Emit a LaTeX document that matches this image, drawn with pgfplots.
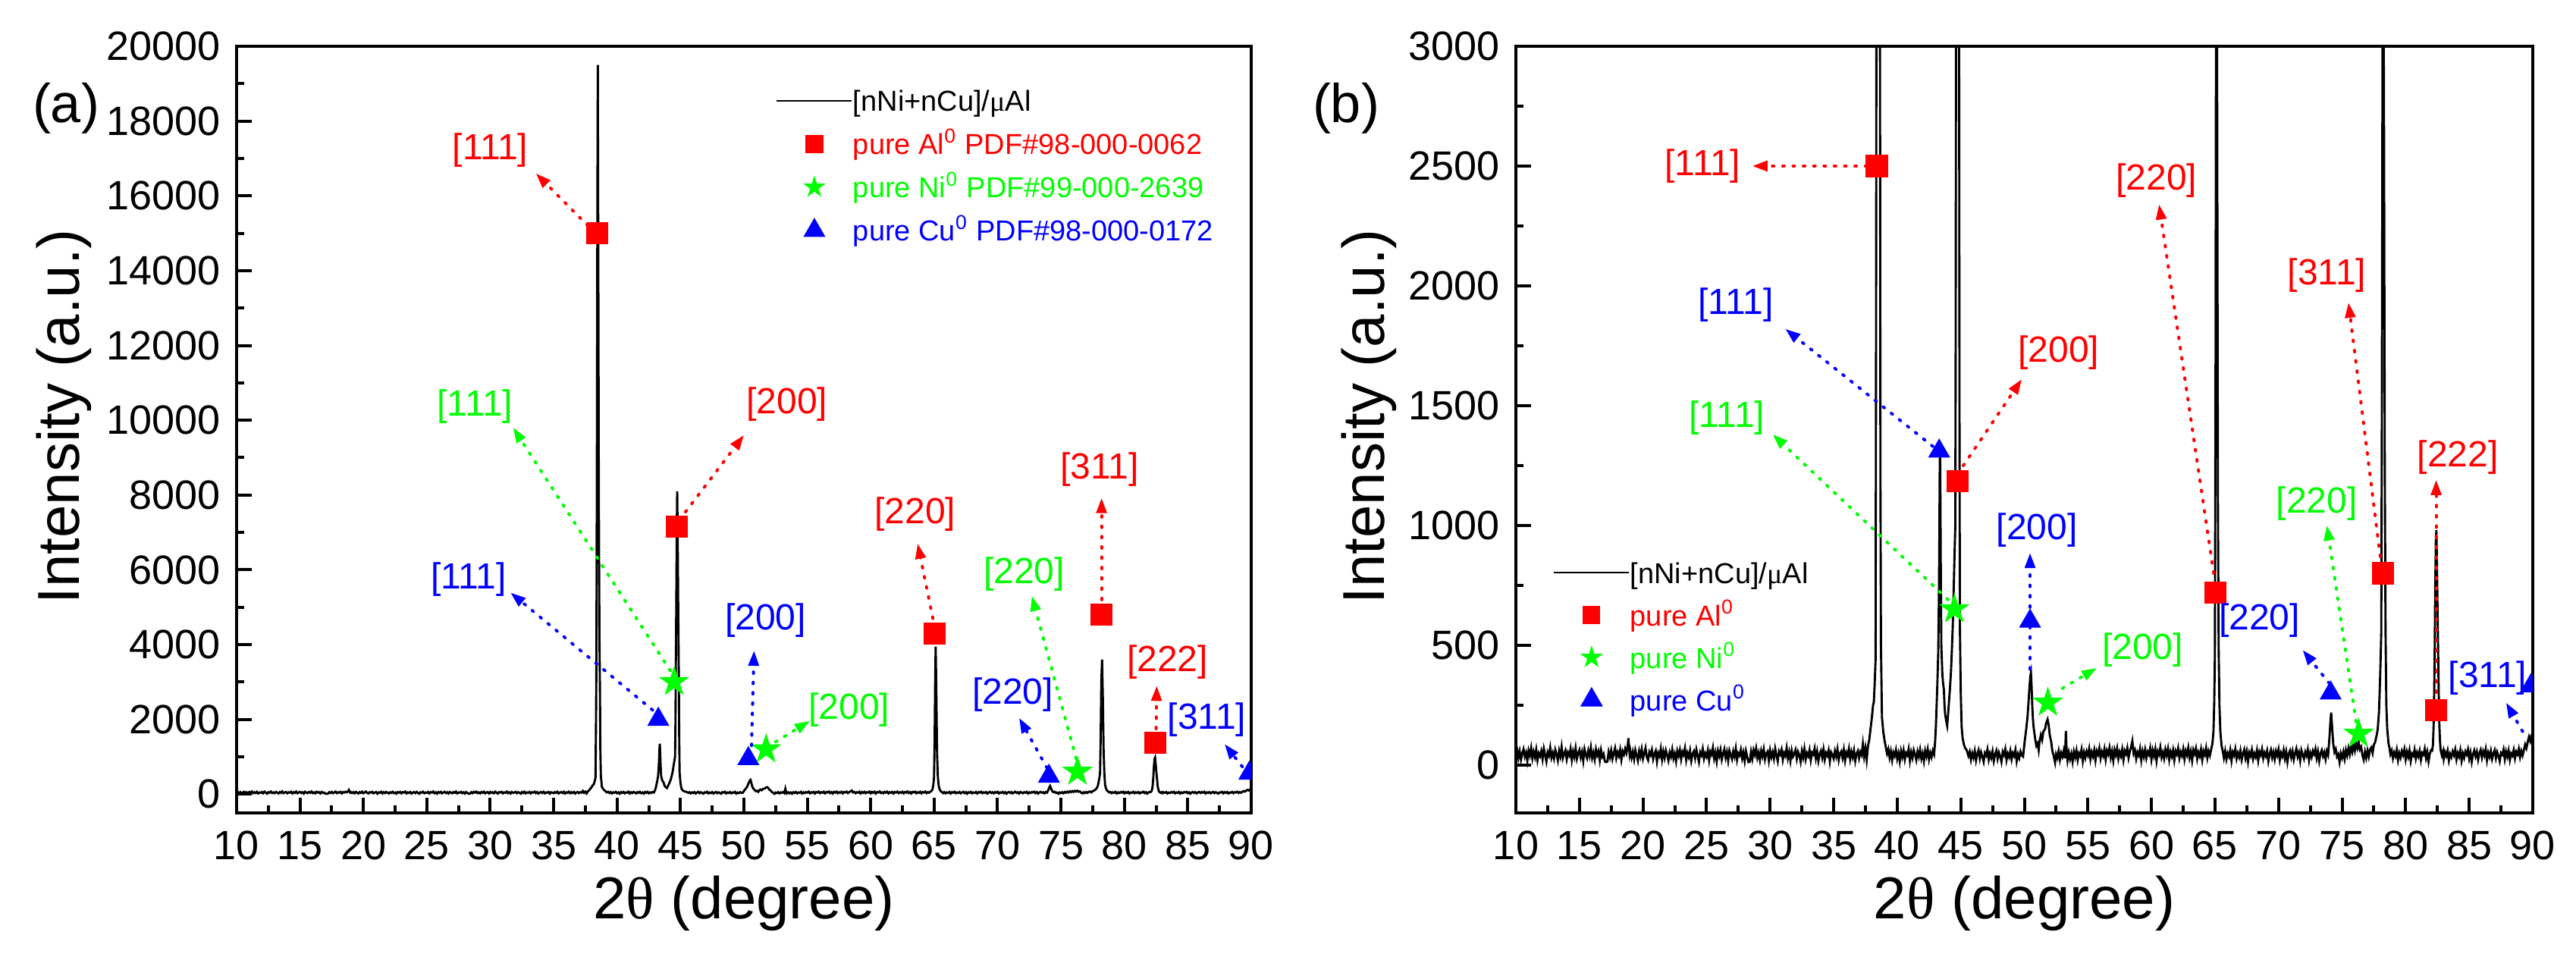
\documentclass[border=0pt]{standalone}
\usepackage{fontspec}
\setmainfont{Liberation Sans}
\newfontfamily\sym{Liberation Serif}
\usepackage{pgfplots}
\usepackage{pgfplotstable}
\pgfplotsset{compat=1.18}
\usetikzlibrary{arrows.meta}

\pgfdeclareplotmark{fstar}{%
  \pgfpathmoveto{\pgfpointpolar{90}{\pgfplotmarksize}}%
  \pgfpathlineto{\pgfpointpolar{126}{0.382\pgfplotmarksize}}%
  \pgfpathlineto{\pgfpointpolar{162}{\pgfplotmarksize}}%
  \pgfpathlineto{\pgfpointpolar{198}{0.382\pgfplotmarksize}}%
  \pgfpathlineto{\pgfpointpolar{234}{\pgfplotmarksize}}%
  \pgfpathlineto{\pgfpointpolar{270}{0.382\pgfplotmarksize}}%
  \pgfpathlineto{\pgfpointpolar{306}{\pgfplotmarksize}}%
  \pgfpathlineto{\pgfpointpolar{342}{0.382\pgfplotmarksize}}%
  \pgfpathlineto{\pgfpointpolar{18}{\pgfplotmarksize}}%
  \pgfpathlineto{\pgfpointpolar{54}{0.382\pgfplotmarksize}}%
  \pgfpathclose\pgfusepathqfillstroke}

\pgfplotstableread[row sep=\\]{
x y\\
10.0 45\\ 10.1 62\\ 10.2 30\\ 10.3 57\\ 10.4 22\\ 10.5 48\\ 10.6 66\\ 10.7 35\\ 10.8 52\\ 10.9 18\\
11.0 60\\ 11.1 40\\ 11.2 71\\ 11.3 28\\ 11.4 55\\ 11.5 33\\ 11.6 64\\ 11.7 20\\ 11.8 49\\ 11.9 37\\
12.0 58\\ 12.1 25\\ 12.2 68\\ 12.3 42\\ 12.4 15\\ 12.5 53\\ 12.6 39\\ 12.7 72\\ 12.8 31\\ 12.9 50\\
13.0 27\\ 13.1 63\\ 13.2 44\\ 13.3 19\\ 13.4 59\\ 13.5 36\\ 13.6 75\\ 13.7 29\\ 13.8 47\\ 13.9 61\\
14.0 24\\ 14.1 52\\ 14.2 40\\ 14.3 67\\ 14.4 21\\ 14.5 56\\ 14.6 34\\ 14.7 70\\ 14.8 26\\ 14.9 48\\
15.0 63\\ 15.1 32\\ 15.2 54\\ 15.3 17\\ 15.4 66\\ 15.5 43\\ 15.6 28\\ 15.7 60\\ 15.8 38\\ 15.9 73\\
16.0 30\\ 16.1 51\\ 16.2 23\\ 16.3 65\\ 16.4 41\\ 16.5 57\\ 16.6 20\\ 16.7 62\\ 16.8 35\\ 16.9 46\\
17.0 15\\ 17.1 12\\ 17.2 14\\ 17.3 55\\ 17.4 33\\ 17.5 61\\ 17.6 26\\ 17.7 49\\ 17.8 70\\ 17.9 29\\
18.0 53\\ 18.1 38\\ 18.2 64\\ 18.3 22\\ 18.4 57\\ 18.5 44\\ 18.6 68\\ 18.7 50\\ 18.8 80\\ 18.85 112\\ 18.9 75\\ 18.95 45\\
19.0 60\\ 19.1 31\\ 19.2 55\\ 19.3 24\\ 19.4 62\\ 19.5 40\\ 19.6 18\\ 19.7 58\\ 19.8 36\\ 19.9 66\\
20.0 27\\ 20.1 49\\ 20.2 71\\ 20.3 33\\ 20.4 20\\ 20.5 54\\ 20.6 42\\ 20.7 63\\ 20.8 25\\ 20.9 46\\
21.0 59\\ 21.1 14\\ 21.2 50\\ 21.3 37\\ 21.4 68\\ 21.5 23\\ 21.6 56\\ 21.7 30\\ 21.8 61\\ 21.9 41\\
22.0 19\\ 22.1 52\\ 22.2 35\\ 22.3 65\\ 22.4 28\\ 22.5 47\\ 22.6 16\\ 22.7 58\\ 22.8 39\\ 22.9 62\\
23.0 24\\ 23.1 55\\ 23.2 43\\ 23.3 70\\ 23.4 21\\ 23.5 50\\ 23.6 33\\ 23.7 60\\ 23.8 17\\ 23.9 45\\
24.0 57\\ 24.1 29\\ 24.2 64\\ 24.3 38\\ 24.4 13\\ 24.5 53\\ 24.6 41\\ 24.7 67\\ 24.8 26\\ 24.9 48\\
25.0 35\\ 25.1 61\\ 25.2 20\\ 25.3 56\\ 25.4 44\\ 25.5 72\\ 25.6 27\\ 25.7 51\\ 25.8 15\\ 25.9 59\\
26.0 38\\ 26.1 63\\ 26.2 23\\ 26.3 47\\ 26.4 66\\ 26.5 31\\ 26.6 54\\ 26.7 18\\ 26.8 60\\ 26.9 42\\
27.0 25\\ 27.1 57\\ 27.2 36\\ 27.3 69\\ 27.4 22\\ 27.5 49\\ 27.6 40\\ 27.7 64\\ 27.8 28\\ 27.9 52\\
28.0 17\\ 28.1 58\\ 28.2 34\\ 28.3 12\\ 28.4 14\\ 28.5 55\\ 28.6 26\\ 28.7 62\\ 28.8 43\\ 28.9 70\\
29.0 30\\ 29.1 51\\ 29.2 21\\ 29.3 59\\ 29.4 37\\ 29.5 66\\ 29.6 24\\ 29.7 48\\ 29.8 56\\ 29.9 19\\
30.0 61\\ 30.1 33\\ 30.2 53\\ 30.3 27\\ 30.4 68\\ 30.5 40\\ 30.6 16\\ 30.7 57\\ 30.8 45\\ 30.9 64\\
31.0 22\\ 31.1 50\\ 31.2 38\\ 31.3 71\\ 31.4 29\\ 31.5 54\\ 31.6 18\\ 31.7 60\\ 31.8 35\\ 31.9 47\\
32.0 63\\ 32.1 26\\ 32.2 55\\ 32.3 41\\ 32.4 14\\ 32.5 58\\ 32.6 32\\ 32.7 67\\ 32.8 24\\ 32.9 49\\
33.0 37\\ 33.1 62\\ 33.2 20\\ 33.3 52\\ 33.4 44\\ 33.5 69\\ 33.6 28\\ 33.7 56\\ 33.8 17\\ 33.9 46\\
34.0 59\\ 34.1 31\\ 34.2 65\\ 34.3 23\\ 34.4 50\\ 34.5 39\\ 34.6 61\\ 34.7 15\\ 34.8 53\\ 34.9 42\\
35.0 27\\ 35.1 58\\ 35.2 36\\ 35.3 66\\ 35.4 21\\ 35.5 48\\ 35.6 57\\ 35.7 30\\ 35.8 63\\ 35.9 19\\
36.0 52\\ 36.1 40\\ 36.2 68\\ 36.3 25\\ 36.4 55\\ 36.5 33\\ 36.6 61\\ 36.7 18\\ 36.8 47\\ 36.9 59\\
37.0 29\\ 37.1 54\\ 37.2 42\\ 37.3 88\\ 37.4 36\\ 37.5 70\\ 37.6 22\\ 37.7 78\\ 37.8 105\\ 37.9 150\\
38.0 195\\ 38.1 250\\ 38.16 262\\ 38.22 330\\ 38.3 442\\ 38.34 2000\\ 38.37 3500\\ 38.41 9000\\ 38.45 16000\\ 38.48 19500\\ 38.52 14000\\ 38.56 8000\\ 38.61 4200\\ 38.65 2800\\ 38.68 1200\\ 38.72 500\\ 38.8 200\\ 38.9 140\\
39.0 104\\ 39.1 75\\ 39.2 48\\ 39.3 66\\ 39.4 31\\ 39.5 57\\ 39.6 20\\ 39.7 52\\ 39.8 38\\ 39.9 63\\
40.0 26\\ 40.1 49\\ 40.2 15\\ 40.3 58\\ 40.4 34\\ 40.5 61\\ 40.6 23\\ 40.7 50\\ 40.8 41\\ 40.9 67\\
41.0 18\\ 41.1 53\\ 41.2 30\\ 41.3 62\\ 41.4 44\\ 41.5 21\\ 41.6 56\\ 41.7 35\\ 41.8 64\\ 41.9 27\\
42.0 48\\ 42.1 16\\ 42.2 59\\ 42.3 37\\ 42.4 65\\ 42.5 24\\ 42.6 51\\ 42.7 33\\ 42.8 60\\ 42.9 45\\
42.98 95\\ 43.05 170\\ 43.11 262\\ 43.17 360\\ 43.23 474\\ 43.28 700\\ 43.31 900\\ 43.34 1200\\ 43.37 1350\\ 43.4 1100\\ 43.43 800\\ 43.47 500\\ 43.55 380\\ 43.61 340\\ 43.67 316\\ 43.72 250\\ 43.77 212\\ 43.85 185\\ 43.93 164\\
44.0 210\\ 44.07 262\\ 44.15 320\\ 44.23 389\\ 44.3 480\\ 44.37 579\\ 44.42 680\\ 44.47 790\\ 44.52 900\\ 44.57 1000\\ 44.6 1800\\ 44.63 3200\\ 44.67 5200\\ 44.71 7200\\ 44.74 8100\\ 44.78 6800\\ 44.82 5000\\ 44.86 3500\\ 44.9 1500\\ 44.93 579\\
45.0 300\\ 45.07 158\\ 45.15 110\\ 45.25 85\\ 45.35 70\\ 45.46 63\\ 45.6 38\\ 45.7 55\\ 45.8 22\\ 45.9 49\\
46.0 31\\ 46.1 58\\ 46.2 19\\ 46.3 46\\ 46.4 62\\ 46.5 27\\ 46.6 53\\ 46.7 35\\ 46.8 14\\ 46.9 50\\
47.0 40\\ 47.1 65\\ 47.2 23\\ 47.3 48\\ 47.4 30\\ 47.5 57\\ 47.6 17\\ 47.7 44\\ 47.8 60\\ 47.9 26\\
48.0 52\\ 48.1 36\\ 48.2 13\\ 48.3 55\\ 48.4 42\\ 48.5 66\\ 48.6 21\\ 48.7 47\\ 48.8 33\\ 48.9 59\\
49.0 24\\ 49.1 50\\ 49.2 38\\ 49.3 63\\ 49.4 16\\ 49.5 45\\ 49.6 29\\ 49.7 56\\ 49.8 40\\ 49.9 35\\
50.04 104\\ 50.15 150\\ 50.25 200\\ 50.33 262\\ 50.4 320\\ 50.47 370\\ 50.52 385\\ 50.57 330\\ 50.63 240\\ 50.68 190\\ 50.73 158\\ 50.85 110\\ 50.95 80\\
51.05 90\\ 51.13 63\\ 51.2 100\\ 51.3 125\\ 51.4 105\\ 51.5 140\\ 51.63 150\\ 51.72 175\\ 51.83 190\\ 51.92 165\\
52.0 125\\ 52.12 95\\ 52.2 60\\ 52.3 40\\ 52.42 10\\ 52.5 45\\ 52.6 30\\ 52.7 58\\ 52.8 22\\ 52.9 50\\
53.0 35\\ 53.1 60\\ 53.2 28\\ 53.27 142\\ 53.32 70\\ 53.4 20\\ 53.5 52\\ 53.6 25\\ 53.7 47\\ 53.8 14\\ 53.9 55\\
54.0 33\\ 54.1 60\\ 54.2 21\\ 54.3 49\\ 54.4 38\\ 54.5 64\\ 54.6 17\\ 54.7 52\\ 54.8 30\\ 54.9 57\\
55.0 41\\ 55.1 68\\ 55.2 25\\ 55.3 54\\ 55.4 36\\ 55.5 62\\ 55.6 20\\ 55.7 58\\ 55.8 44\\ 55.9 70\\
56.0 28\\ 56.1 55\\ 56.2 39\\ 56.3 66\\ 56.4 23\\ 56.5 60\\ 56.6 45\\ 56.7 72\\ 56.8 31\\ 56.9 57\\
57.0 19\\ 57.1 63\\ 57.2 42\\ 57.3 69\\ 57.4 27\\ 57.5 54\\ 57.6 37\\ 57.7 65\\ 57.8 22\\ 57.9 59\\
58.0 46\\ 58.1 71\\ 58.2 30\\ 58.3 56\\ 58.4 75\\ 58.5 100\\ 58.6 48\\ 58.7 62\\ 58.8 26\\ 58.9 53\\
59.0 40\\ 59.1 67\\ 59.2 21\\ 59.3 58\\ 59.4 35\\ 59.5 64\\ 59.6 29\\ 59.7 55\\ 59.8 43\\ 59.9 70\\
60.0 24\\ 60.1 61\\ 60.2 38\\ 60.3 66\\ 60.4 18\\ 60.5 57\\ 60.6 44\\ 60.7 73\\ 60.8 32\\ 60.9 52\\
61.0 27\\ 61.1 64\\ 61.2 41\\ 61.3 68\\ 61.4 23\\ 61.5 55\\ 61.6 36\\ 61.7 62\\ 61.8 20\\ 61.9 58\\
62.0 45\\ 62.1 70\\ 62.2 29\\ 62.3 54\\ 62.4 39\\ 62.5 66\\ 62.6 25\\ 62.7 59\\ 62.8 42\\ 62.9 72\\
63.0 31\\ 63.1 56\\ 63.2 19\\ 63.3 63\\ 63.4 47\\ 63.5 69\\ 63.6 26\\ 63.7 53\\ 63.8 37\\ 63.9 65\\
64.0 22\\ 64.1 58\\ 64.2 43\\ 64.3 71\\ 64.4 30\\ 64.5 57\\ 64.6 40\\ 64.7 66\\ 64.8 90\\
64.88 140\\ 64.94 260\\ 64.99 450\\ 65.04 1500\\ 65.08 3000\\ 65.12 3950\\ 65.17 2800\\ 65.23 1100\\ 65.29 480\\ 65.35 250\\ 65.42 140\\ 65.52 80\\ 65.62 55\\ 65.7 30\\ 65.8 58\\ 65.9 24\\
66.0 49\\ 66.1 35\\ 66.2 62\\ 66.3 18\\ 66.4 54\\ 66.5 41\\ 66.6 67\\ 66.7 27\\ 66.8 50\\ 66.9 33\\
67.0 60\\ 67.1 22\\ 67.2 47\\ 67.3 64\\ 67.4 29\\ 67.5 56\\ 67.6 15\\ 67.7 52\\ 67.8 38\\ 67.9 63\\
68.0 25\\ 68.1 48\\ 68.2 34\\ 68.3 61\\ 68.4 19\\ 68.5 55\\ 68.6 42\\ 68.7 66\\ 68.8 28\\ 68.9 51\\
69.0 37\\ 69.1 59\\ 69.2 16\\ 69.3 46\\ 69.4 63\\ 69.5 31\\ 69.6 53\\ 69.7 24\\ 69.8 58\\ 69.9 40\\
70.0 65\\ 70.1 21\\ 70.2 50\\ 70.3 36\\ 70.4 62\\ 70.5 27\\ 70.6 55\\ 70.7 13\\ 70.8 47\\ 70.9 60\\
71.0 32\\ 71.1 57\\ 71.2 23\\ 71.3 49\\ 71.4 68\\ 71.5 35\\ 71.6 52\\ 71.7 18\\ 71.8 61\\ 71.9 43\\
72.0 26\\ 72.1 54\\ 72.2 39\\ 72.3 64\\ 72.4 20\\ 72.5 50\\ 72.6 33\\ 72.7 59\\ 72.8 45\\ 72.9 67\\
73.0 29\\ 73.1 56\\ 73.2 17\\ 73.3 48\\ 73.4 62\\ 73.5 37\\ 73.6 53\\ 73.7 24\\ 73.8 58\\ 73.9 42\\
74.0 110\\ 74.08 180\\ 74.14 219\\ 74.2 170\\ 74.3 90\\ 74.4 54\\ 74.5 66\\ 74.6 35\\ 74.7 45\\ 74.8 12\\ 74.9 48\\
75.0 30\\ 75.1 55\\ 75.2 25\\ 75.3 62\\ 75.4 40\\ 75.5 70\\ 75.6 45\\ 75.7 80\\ 75.8 55\\ 75.9 85\\
76.0 60\\ 76.1 90\\ 76.2 70\\ 76.3 95\\ 76.4 65\\ 76.5 75\\ 76.6 40\\ 76.7 22\\ 76.8 55\\ 76.9 30\\
77.0 60\\ 77.1 35\\ 77.2 65\\ 77.3 73\\ 77.4 50\\ 77.5 85\\ 77.6 95\\ 77.7 120\\ 77.8 148\\ 77.9 220\\
77.95 295\\ 78.02 420\\ 78.08 550\\ 78.13 1500\\ 78.18 3000\\ 78.24 3600\\ 78.3 2600\\ 78.36 1200\\ 78.42 550\\ 78.48 250\\ 78.55 150\\ 78.65 90\\ 78.72 73\\ 78.8 45\\ 78.9 60\\
79.0 28\\ 79.1 52\\ 79.2 37\\ 79.3 63\\ 79.4 20\\ 79.5 49\\ 79.6 31\\ 79.7 58\\ 79.8 42\\ 79.9 66\\
80.0 24\\ 80.1 55\\ 80.2 34\\ 80.3 61\\ 80.4 17\\ 80.5 47\\ 80.6 39\\ 80.7 64\\ 80.8 27\\ 80.9 52\\
81.0 36\\ 81.1 59\\ 81.2 21\\ 81.3 50\\ 81.4 43\\ 81.5 67\\ 81.6 29\\ 81.7 54\\ 81.8 15\\ 81.9 48\\
82.0 62\\ 82.08 60\\ 82.15 85\\ 82.22 200\\ 82.28 450\\ 82.33 750\\ 82.38 950\\ 82.42 980\\ 82.47 800\\ 82.52 600\\ 82.57 420\\ 82.63 200\\ 82.7 100\\ 82.75 63\\ 82.85 40\\ 82.95 58\\
83.0 26\\ 83.1 53\\ 83.2 38\\ 83.3 60\\ 83.4 19\\ 83.5 46\\ 83.6 33\\ 83.7 57\\ 83.8 41\\ 83.9 64\\
84.0 23\\ 84.1 50\\ 84.2 35\\ 84.3 62\\ 84.4 18\\ 84.5 48\\ 84.6 30\\ 84.7 56\\ 84.8 44\\ 84.9 65\\
85.0 27\\ 85.1 52\\ 85.2 14\\ 85.3 45\\ 85.4 61\\ 85.5 36\\ 85.6 55\\ 85.7 22\\ 85.8 49\\ 85.9 63\\
86.0 31\\ 86.1 57\\ 86.2 40\\ 86.3 66\\ 86.4 20\\ 86.5 51\\ 86.6 34\\ 86.7 59\\ 86.8 25\\ 86.9 47\\
87.0 62\\ 87.1 29\\ 87.2 54\\ 87.3 38\\ 87.4 16\\ 87.5 50\\ 87.6 43\\ 87.7 64\\ 87.8 24\\ 87.9 56\\
88.0 35\\ 88.1 60\\ 88.2 21\\ 88.3 48\\ 88.4 39\\ 88.5 63\\ 88.6 28\\ 88.7 55\\ 88.8 44\\ 88.9 67\\
89.0 33\\ 89.1 58\\ 89.2 40\\ 89.3 62\\ 89.4 85\\ 89.5 70\\ 89.6 95\\ 89.7 117\\ 89.8 100\\ 89.9 125\\ 90.0 130\\
}\xrd

\tikzset{
  ann/.style={line width=1pt, line cap=round, dash pattern=on 0.5pt off 2.9pt, -{Triangle[length=5pt,width=3.4pt]}},
  lab/.style={font=\fontsize{12}{14}\selectfont, anchor=center, inner sep=0pt},
}
\pgfplotsset{
  xrd/.style={
    scale only axis, height=252.75pt,
    xmin=10, xmax=90, xtick={10,15,...,90}, minor x tick num=1,
    minor y tick num=1,
    tick align=inside, tick pos=left,
    major tick length=5pt, minor tick length=2.5pt,
    tick style={line width=1pt, black},
    axis line style={line width=1pt},
    tick label style={font=\fontsize{13.5}{15}\selectfont},
    yticklabel style={xshift=-1.75pt},
    xticklabel style={yshift=-2.5pt},
    /pgf/number format/assume math mode=true,
    /pgf/number format/1000 sep={},
    scaled y ticks=false,
    clip marker paths=true,
    label style={font=\fontsize{19.5}{22}\selectfont},
    xlabel={2{\sym θ} (degree)},
    ylabel={Intensity (a.u.)},
    xlabel style={at={(axis description cs:0.5,-0.1177)}, anchor=center},
    legend cell align=left,
  },
  lineleg/.style={legend image code/.code={\draw[##1] (0pt,0pt) -- (24.75pt,0pt);}},
  markleg/.style={legend image code/.code={\draw[##1,mark size=#1] plot coordinates {(12.375pt,0pt)};}},
}

\begin{document}
\begin{tikzpicture}
\path[use as bounding box] (0,0) rectangle (849.25pt,315.5pt);

% ---------------- (a) ----------------
\begin{axis}[xrd, at={(78pt,47.5pt)}, anchor=south west, width=334.5pt,
  ymin=-500, ymax=20000, ytick={0,2000,...,20000},
  ylabel style={at={(axis description cs:-0.1704,0.517)}, anchor=center},
  legend style={draw=none, fill=none, at={(0.5314,0.9486)}, anchor=north west,
    inner sep=0pt, outer sep=0pt, row sep=4.25pt, font=\fontsize{9.5}{11}\selectfont,
    nodes={inner sep=0pt, text height=8.5pt, text depth=1.5pt},
    /tikz/every even column/.append style={column sep=2.75pt}},
]
\addplot[black, line width=0.72pt, lineleg] table[x=x,y=y] {\xrd};
\addlegendentry{[nNi+nCu]/{\sym μ}Al}
\addplot[only marks, mark=square*, red, mark size=3.5pt, mark options={line width=0.3pt}, markleg=2.75pt]
  coordinates {(38.45,15000) (44.7,7150) (65.05,4300) (78.2,4800) (82.45,1380)};
\addlegendentry{\textcolor{red}{pure Al\textsuperscript{0} PDF\#98-000-0062}}
\addplot[only marks, mark=fstar, green, mark size=4.85pt, mark options={line width=0.3pt}, markleg=3.4pt]
  coordinates {(44.5,3000) (51.75,1200) (76.3,600)};
\addlegendentry{\textcolor{green}{pure Ni\textsuperscript{0} PDF\#99-000-2639}}
\addplot[only marks, mark=triangle*, blue, mark size=3.9pt, mark options={line width=0.3pt}, markleg=3.9pt]
  coordinates {(43.25,2000) (50.35,950) (74.05,480) (89.85,560)};
\addlegendentry{\textcolor{blue}{pure Cu\textsuperscript{0} PDF\#98-000-0172}}

\draw[ann, red] (axis cs:37.7,15200) -- (axis cs:33.6,16600);
\node[lab, red] at (axis cs:30.0,17224) {[111]};
\draw[ann, green] (axis cs:44.2,3300) -- (axis cs:31.8,9800);
\node[lab, green] at (axis cs:28.8,10370) {[111]};
\draw[ann, red] (axis cs:45.4,7550) -- (axis cs:50.0,9600);
\node[lab, red] at (axis cs:53.4,10420) {[200]};
\draw[ann, blue] (axis cs:42.8,2250) -- (axis cs:31.6,5390);
\node[lab, blue] at (axis cs:28.3,5750) {[111]};
\draw[ann, blue] (axis cs:50.6,1300) -- (axis cs:50.8,3840);
\node[lab, blue] at (axis cs:51.7,4650) {[200]};
\draw[ann, green] (axis cs:52.5,1400) -- (axis cs:55.2,1960);
\node[lab, green] at (axis cs:58.3,2250) {[200]};
\draw[ann, red] (axis cs:64.9,4700) -- (axis cs:63.7,6700);
\node[lab, red] at (axis cs:63.5,7480) {[220]};
\draw[ann, green] (axis cs:76.2,950) -- (axis cs:72.7,5300);
\node[lab, green] at (axis cs:72.1,5880) {[220]};
\draw[ann, red] (axis cs:78.2,5200) -- (axis cs:78.2,7920);
\node[lab, red] at (axis cs:78.05,8690) {[311]};
\draw[ann, blue] (axis cs:73.9,700) -- (axis cs:71.7,2040);
\node[lab, blue] at (axis cs:71.2,2660) {[220]};
\draw[ann, red] (axis cs:82.5,1750) -- (axis cs:82.55,2900);
\node[lab, red] at (axis cs:83.4,3540) {[222]};
\draw[ann, blue] (axis cs:89.3,735) -- (axis cs:87.9,1340);
\node[lab, blue] at (axis cs:86.5,1990) {[311]};
\end{axis}

% ---------------- (b) ----------------
\begin{axis}[xrd, at={(499.75pt,47.5pt)}, anchor=south west, width=335.25pt,
  ymin=-200, ymax=3000, ytick={0,500,...,3000},
  ylabel style={at={(axis description cs:-0.1447,0.517)}, anchor=center},
  legend style={draw=none, fill=none, at={(0.0365,0.3333)}, anchor=north west,
    inner sep=0pt, outer sep=0pt, row sep=4pt, font=\fontsize{9.5}{11}\selectfont,
    nodes={inner sep=0pt, text height=8.5pt, text depth=1.5pt},
    /tikz/every even column/.append style={column sep=3.25pt}},
]
\addplot[black, line width=0.72pt, lineleg] table[x=x,y=y] {\xrd};
\addlegendentry{[nNi+nCu]/{\sym μ}Al}
\addplot[only marks, mark=square*, red, mark size=3.5pt, mark options={line width=0.3pt}, markleg=2.75pt]
  coordinates {(38.4,2500) (44.75,1185) (65.05,720) (78.2,800) (82.4,230)};
\addlegendentry{\textcolor{red}{pure Al\textsuperscript{0}}}
\addplot[only marks, mark=fstar, green, mark size=4.85pt, mark options={line width=0.3pt}, markleg=3.5pt]
  coordinates {(44.5,650) (51.85,260) (76.3,130)};
\addlegendentry{\textcolor{green}{pure Ni\textsuperscript{0}}}
\addplot[only marks, mark=triangle*, blue, mark size=3.9pt, mark options={line width=0.3pt}, markleg=4pt]
  coordinates {(43.3,1310) (50.45,600) (74.1,300) (89.85,330)};
\addlegendentry{\textcolor{blue}{pure Cu\textsuperscript{0}}}

\draw[ann, red] (axis cs:37.6,2500) -- (axis cs:28.6,2500);
\node[lab, red] at (axis cs:24.7,2500) {[111]};
\draw[ann, red] (axis cs:64.9,800) -- (axis cs:60.6,2340);
\node[lab, red] at (axis cs:60.4,2440) {[220]};
\draw[ann, red] (axis cs:78.0,870) -- (axis cs:75.5,1930);
\node[lab, red] at (axis cs:73.8,2045) {[311]};
\draw[ann, blue] (axis cs:42.8,1330) -- (axis cs:31.2,1820);
\node[lab, blue] at (axis cs:27.3,1920) {[111]};
\draw[ann, red] (axis cs:45.2,1250) -- (axis cs:49.8,1610);
\node[lab, red] at (axis cs:52.7,1720) {[200]};
\draw[ann, green] (axis cs:44.0,690) -- (axis cs:30.2,1380);
\node[lab, green] at (axis cs:26.6,1450) {[111]};
\draw[ann, blue] (axis cs:50.45,400) -- (axis cs:50.45,885);
\node[lab, blue] at (axis cs:51.0,980) {[200]};
\draw[ann, red] (axis cs:82.4,260) -- (axis cs:82.4,1190);
\node[lab, red] at (axis cs:84.1,1285) {[222]};
\draw[ann, green] (axis cs:76.1,180) -- (axis cs:73.8,1000);
\node[lab, green] at (axis cs:73.0,1090) {[220]};
\draw[ann, blue] (axis cs:74.0,340) -- (axis cs:71.9,480);
\node[lab, blue] at (axis cs:68.5,605) {[220]};
\draw[ann, green] (axis cs:53.0,320) -- (axis cs:55.7,405);
\node[lab, green] at (axis cs:59.3,480) {[200]};
\draw[ann, blue] (axis cs:89.2,140) -- (axis cs:87.9,260);
\node[lab, blue] at (axis cs:86.45,362) {[311]};
\end{axis}

\node[font=\fontsize{18}{20}\selectfont] at (21.75pt,279.75pt) {(a)};
\node[font=\fontsize{18}{20}\selectfont] at (443.75pt,279.75pt) {(b)};
\end{tikzpicture}
\end{document}
